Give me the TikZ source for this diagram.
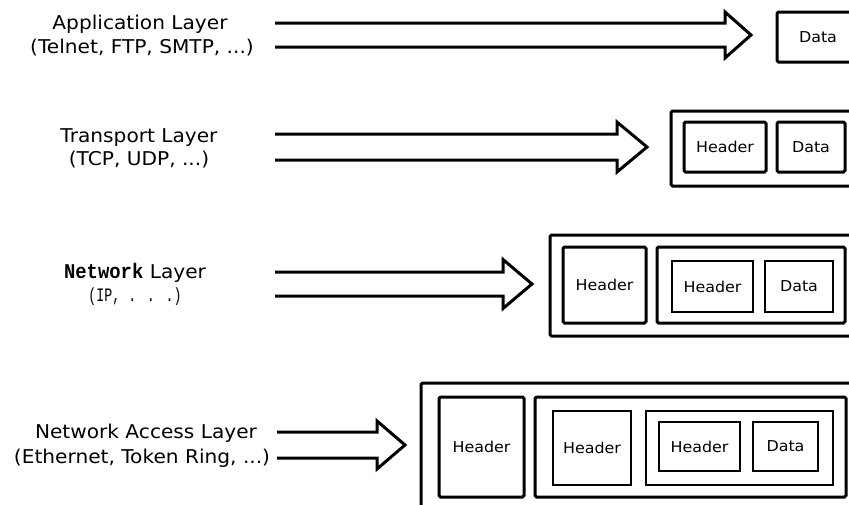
\documentclass[tikz,border=0pt]{standalone}
\usepackage{fontspec}
\setmainfont{DejaVu Sans}[FakeStretch=1.06]
\newfontfamily\netfont{Liberation Mono}[FakeStretch=0.9]
\newfontfamily\ipfont{Liberation Mono}[FakeStretch=0.7]
\usetikzlibrary{calc}

% hollow block arrow: #1 start, #2 tip, #3 half gap between shafts,
% #4 half height of the head, #5 length of the head
\newcommand\hollowarrow[5]{%
  \draw[pipe] ($(#1)+(0,-#3)$) -- ($(#2)+(-#5,-#3)$) -- ($(#2)+(-#5,-#4)$)
    -- (#2) -- ($(#2)+(-#5,#4)$) -- ($(#2)+(-#5,#3)$) -- ($(#1)+(0,#3)$);}

\begin{document}
\begin{tikzpicture}[x=1pt,y=-1pt,
  lbl/.style={font=\fontsize{19}{22}\selectfont, anchor=base, inner sep=0pt},
  heavy/.style={draw, line width=3pt, rounded corners=1.5pt, inner sep=0pt,
    font=\fontsize{15}{18}\selectfont},
  light/.style={draw, line width=1.6pt, inner sep=0pt,
    font=\fontsize{15}{18}\selectfont},
  pipe/.style={line width=3pt, line join=miter, line cap=butt}]

\useasboundingbox (0,0) rectangle (849,504);
\clip (0,0) rectangle (849,504);

% ---- layer names ----
\node[lbl] (app)  at (140,29)  {Application Layer};
\node[lbl] (appx) at (142,53)  {(Telnet, FTP, SMTP, ...)};
\node[lbl] (tra)  at (139,142) {Transport Layer};
\node[lbl] (trax) at (139,165) {(TCP, UDP, ...)};
\node[lbl] (net)  at (135,278) {{\netfont\fontsize{21}{24}\selectfont\bfseries Network} Layer};
\node[lbl, font=\ipfont\fontsize{19}{22}\selectfont] (netx) at (135,301) {(IP, . . .)};
\node[lbl] (acc)  at (146,438) {Network Access Layer};
\node[lbl] (accx) at (142,463) {(Ethernet, Token Ring, ...)};

% ---- arrows ----
\coordinate (s1) at (275,35);  \coordinate (t1) at (751,35);
\coordinate (s2) at (275,147); \coordinate (t2) at (647,147);
\coordinate (s3) at (275,284); \coordinate (t3) at (532,284);
\coordinate (s4) at (277,445); \coordinate (t4) at (405,445);
\hollowarrow{s1}{t1}{12}{23}{26}
\hollowarrow{s2}{t2}{13}{25}{30}
\hollowarrow{s3}{t3}{12}{24.5}{29}
\hollowarrow{s4}{t4}{13}{24}{28}

% ---- application data ----
\node[heavy, minimum width=82pt, minimum height=50pt] (d1) at (818,37) {Data};

% ---- transport segment ----
\node[heavy, minimum width=189pt, minimum height=75pt] (seg) at (765.5,148.5) {};
\node[heavy, minimum width=82pt, minimum height=50pt] (h2) at (725,147) {Header};
\node[heavy, minimum width=68pt, minimum height=50pt] (d2) at (811,147) {Data};

% ---- network datagram ----
\node[heavy, minimum width=310pt, minimum height=101pt] (dgram) at (705,285.5) {};
\node[heavy, minimum width=83pt, minimum height=76pt] (h3) at (604.5,285) {Header};
\node[heavy, minimum width=188pt, minimum height=76pt] (p3) at (751,285) {};
\node[light, minimum width=81pt, minimum height=51pt] (h3b) at (712.5,286.5) {Header};
\node[light, minimum width=68pt, minimum height=51pt] (d3) at (799,286.5) {Data};

% ---- network access frame ----
\node[heavy, minimum width=439pt, minimum height=137pt] (frame) at (640.5,451.5) {};
\node[heavy, minimum width=85pt, minimum height=100pt] (h4) at (481.5,447) {Header};
\node[heavy, minimum width=311pt, minimum height=100pt] (p4) at (690.5,447) {};
\node[light, minimum width=78pt, minimum height=74pt] (h4b) at (592,448) {Header};
\node[light, minimum width=187pt, minimum height=74pt] (p4b) at (739.5,448) {};
\node[light, minimum width=81pt, minimum height=49pt] (h4c) at (699.5,446.5) {Header};
\node[light, minimum width=65pt, minimum height=49pt] (d4) at (785.5,446.5) {Data};
\end{tikzpicture}
\end{document}
